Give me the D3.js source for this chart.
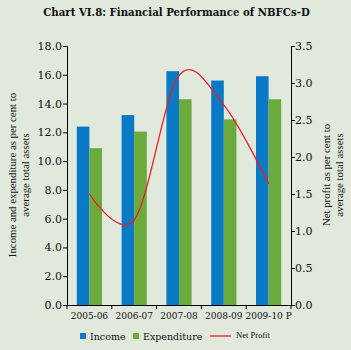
<!DOCTYPE html>
<html>
<head>
<meta charset="utf-8">
<script src="https://cdn.jsdelivr.net/npm/d3@7"></script>
<style>
    html, body { margin: 0; padding: 0; background: #e1e9dd; }
    svg { display: block; font-family: "DejaVu Serif", "Liberation Serif", serif; }
</style>
</head>
<body>
<div id="chart"></div>
<script>
const categories = ['2005-06', '2006-07', '2007-08', '2008-09', '2009-10 P'];
const income = [12.4, 13.2, 16.25, 15.6, 15.9];
const expenditure = [10.9, 12.05, 14.3, 12.9, 14.3];
const netProfit = [1.5, 1.15, 3.1, 2.7, 1.64];
const leftTicks = [0, 2, 4, 6, 8, 10, 12, 14, 16, 18];
const rightTicks = [0, 0.5, 1, 1.5, 2, 2.5, 3, 3.5];

const width = 351, height = 350;
const margin = {top: 46, right: 60, bottom: 45, left: 67};
const innerW = width - margin.left - margin.right;
const innerH = height - margin.top - margin.bottom;
const timesFont = '"Liberation Serif", "Times New Roman", serif';

const svg = d3.select('#chart').append('svg')
    .attr('width', width)
    .attr('height', height);

svg.append('rect').attr('width', width).attr('height', height).attr('fill', '#e1e9dd');

svg.append('text')
    .attr('x', width / 2 + 1)
    .attr('y', 16)
    .attr('text-anchor', 'middle')
    .attr('font-weight', 'bold')
    .attr('font-size', 10.2)
    .attr('fill', '#111')
    .text('Chart VI.8: Financial Performance of NBFCs-D');

const g = svg.append('g')
    .attr('transform', `translate(${margin.left},${margin.top})`);

const x = d3.scaleBand().domain(categories).range([0, innerW]);
const y = d3.scaleLinear().domain([0, 18]).range([innerH, 0]);
const y2 = d3.scaleLinear().domain([0, 3.5]).range([innerH, 0]);
const barW = 12.6;

// bars
const groups = g.selectAll('.cat')
    .data(categories)
    .enter().append('g')
    .attr('transform', d => `translate(${x(d) + x.bandwidth() / 2},0)`);

groups.append('rect')
    .attr('x', -barW)
    .attr('width', barW)
    .attr('y', (d, i) => y(income[i]))
    .attr('height', (d, i) => innerH - y(income[i]))
    .attr('fill', '#0a79c6');

groups.append('rect')
    .attr('x', 0)
    .attr('width', barW)
    .attr('y', (d, i) => y(expenditure[i]))
    .attr('height', (d, i) => innerH - y(expenditure[i]))
    .attr('fill', '#6caa3c');

// net profit line
const line = d3.line()
    .x((d, i) => x(categories[i]) + x.bandwidth() / 2)
    .y(d => y2(d))
    .curve(d3.curveCardinal.tension(0));

g.append('path')
    .datum(netProfit)
    .attr('d', line)
    .attr('fill', 'none')
    .attr('stroke', '#ee1c25')
    .attr('stroke-width', 1.3);

// axes
const leftAxis = g.append('g')
    .call(d3.axisLeft(y).tickValues(leftTicks).tickFormat(d3.format('.1f')).tickSizeOuter(0).tickSize(4));

const rightAxis = g.append('g')
    .attr('transform', `translate(${innerW},0)`)
    .call(d3.axisRight(y2).tickValues(rightTicks).tickFormat(d3.format('.1f')).tickSizeOuter(0).tickSize(4));

const bottomAxis = g.append('g')
    .attr('transform', `translate(0,${innerH})`)
    .call(d3.axisBottom(x).tickSize(0).tickPadding(8));

// boundary ticks on x axis
g.selectAll('.xsep')
    .data(d3.range(categories.length + 1))
    .enter().append('line')
    .attr('x1', i => i * x.step())
    .attr('x2', i => i * x.step())
    .attr('y1', innerH)
    .attr('y2', innerH + 4)
    .attr('stroke', '#000');

[leftAxis, rightAxis, bottomAxis].forEach(a => {
    a.selectAll('path, line').attr('stroke', '#000');
    a.selectAll('text')
        .attr('fill', '#111')
        .attr('font-size', 11)
        .attr('font-family', '"DejaVu Serif", "Liberation Serif", serif');
});
leftAxis.selectAll('text').attr('x', -5);
rightAxis.selectAll('text').attr('x', 4);
bottomAxis.selectAll('text').attr('font-size', 9);

// axis titles
const leftTitle = svg.append('text')
    .attr('transform', 'translate(16,175) rotate(-90)')
    .attr('text-anchor', 'middle')
    .attr('font-family', timesFont)
    .attr('font-size', 10.8)
    .attr('fill', '#111');
leftTitle.append('tspan').attr('x', 0).attr('dy', 0).text('Income and expenditure as per cent to');
leftTitle.append('tspan').attr('x', 0).attr('dy', 12.5).text('average total assets');

const rightTitle = svg.append('text')
    .attr('transform', 'translate(330,175) rotate(-90)')
    .attr('text-anchor', 'middle')
    .attr('font-family', timesFont)
    .attr('font-size', 10.8)
    .attr('fill', '#111');
rightTitle.append('tspan').attr('x', 0).attr('dy', 0).text('Net profit as per cent to');
rightTitle.append('tspan').attr('x', 0).attr('dy', 12.5).text('average total assets');

// legend
const legend = svg.append('g').attr('transform', 'translate(0,337)');
legend.append('rect').attr('x', 80).attr('y', -4).attr('width', 6).attr('height', 6).attr('fill', '#0a79c6');
legend.append('text').attr('x', 90).attr('y', 3).attr('font-size', 9.5).attr('fill', '#111').text('Income');
legend.append('rect').attr('x', 133).attr('y', -4).attr('width', 6).attr('height', 6).attr('fill', '#6caa3c');
legend.append('text').attr('x', 143).attr('y', 3).attr('font-size', 9.5).attr('fill', '#111').text('Expenditure');
legend.append('line').attr('x1', 210).attr('x2', 231).attr('y1', -1).attr('y2', -1)
    .attr('stroke', '#ee1c25').attr('stroke-width', 1.3);
legend.append('text').attr('x', 236).attr('y', 1).attr('font-family', timesFont)
    .attr('font-size', 8.5).attr('fill', '#111').text('Net Profit');
</script>
</body>
</html>
